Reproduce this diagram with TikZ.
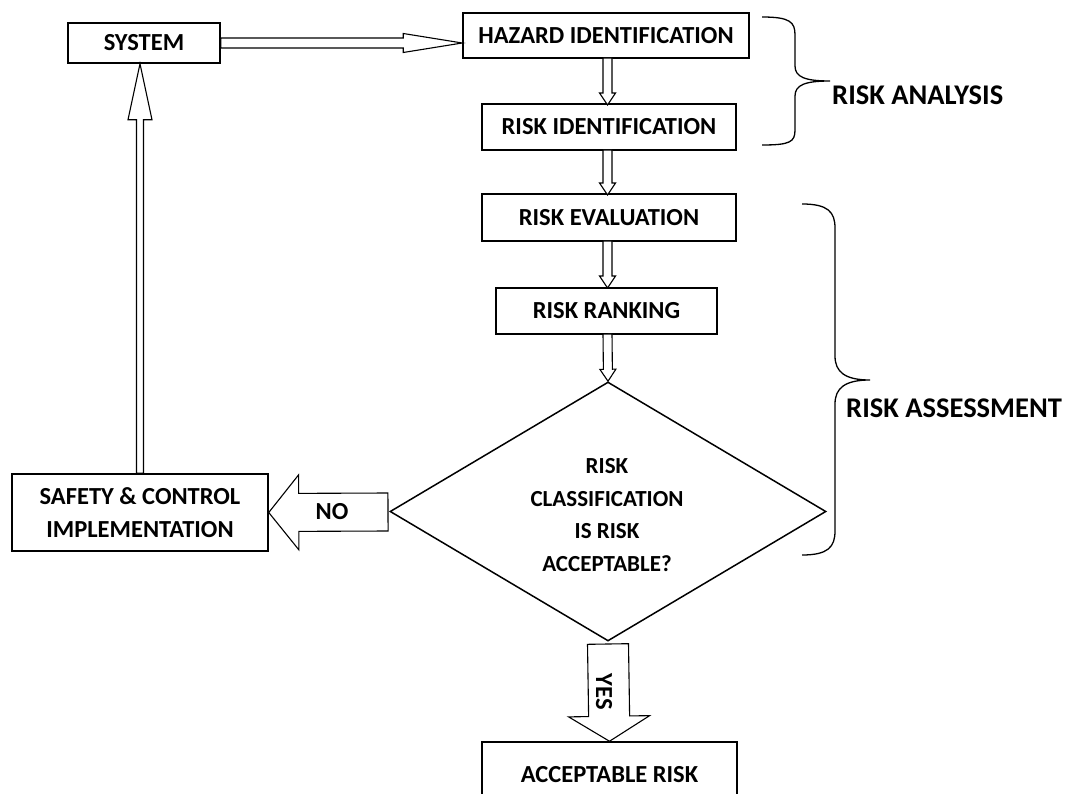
\documentclass[tikz,border=0pt]{standalone}
\usepackage{fontspec}
\setmainfont{Carlito}
\usetikzlibrary{calc,shapes.geometric}

% hollow block arrow from #1 to #2: shaft half-width #3, head half-width #4, head length #5
\newcommand{\blockarrow}[5]{%
  \path ($(#2)!#5!(#1)$) coordinate (hb);
  \draw[hollow]
    ($(#1)!#3!90:(#2)$) -- ($(hb)!#3!90:(#2)$) -- ($(hb)!#4!90:(#2)$) -- (#2)
    -- ($(hb)!#4!-90:(#2)$) -- ($(hb)!#3!-90:(#2)$) -- ($(#1)!#3!-90:(#2)$) -- cycle;
}

\tikzset{
  box/.style={draw, line width=1.5pt, inner sep=0pt, align=center,
    font=\bfseries\fontsize{24.5}{33}\selectfont},
  qtext/.style={align=center, inner sep=0pt,
    font=\bfseries\fontsize{23}{32.5}\selectfont},
  hollow/.style={draw, fill=white, line width=1.1pt, line join=miter},
  brace/.style={draw, line width=1.3pt},
  side/.style={font=\bfseries\fontsize{28.5}{32}\selectfont, anchor=west, inner sep=0pt},
}

\begin{document}
\begin{tikzpicture}[x=1pt, y=-1pt]
\useasboundingbox (0,0) rectangle (1065,794);
\clip (0,0) rectangle (1065,794);

% process column
\node[box, minimum width=152pt, minimum height=40pt] (system) at (144,43) {SYSTEM};
\node[box, minimum width=286pt, minimum height=45pt] (hazard) at (606,35.5) {HAZARD IDENTIFICATION};
\node[box, minimum width=254pt, minimum height=46pt] (riskid) at (609,127) {RISK IDENTIFICATION};
\node[box, minimum width=254pt, minimum height=47pt] (evaluation) at (609,217.5) {RISK EVALUATION};
\node[box, minimum width=221pt, minimum height=46pt] (ranking) at (606.5,311) {RISK RANKING};
\node[box, shape=diamond, minimum width=436pt, minimum height=259pt] (classify) at (608,511.5) {};
\node[qtext] (question) at (607,515) {RISK\\CLASSIFICATION\\IS RISK\\ACCEPTABLE?};
\node[box, minimum width=256pt, minimum height=77pt] (safety) at (140,512.5)
  {SAFETY \& CONTROL\\IMPLEMENTATION};
\node[box, minimum width=255pt, minimum height=66pt] (accept) at (609.5,775) {ACCEPTABLE RISK};

% connectors
\coordinate (hzin) at (system.east -| hazard.west);
\blockarrow{system.east}{hzin}{5pt}{9.5pt}{59pt}
\coordinate (a1s) at (607.5,58);  \coordinate (a1e) at (607.5,105);
\blockarrow{a1s}{a1e}{4.5pt}{8pt}{12pt}
\coordinate (a2s) at (607.5,150); \coordinate (a2e) at (607.5,195);
\blockarrow{a2s}{a2e}{4.5pt}{8pt}{12pt}
\coordinate (a3s) at (607.5,241); \coordinate (a3e) at (607.5,288);
\blockarrow{a3s}{a3e}{4.5pt}{8pt}{12pt}
\coordinate (a4s) at (607.5,334);
\blockarrow{a4s}{classify.north}{4.5pt}{8pt}{12pt}

% NO branch
\coordinate (nos) at (388,512);
\blockarrow{nos}{safety.east}{19pt}{37.5pt}{30pt}
\node[font=\bfseries\fontsize{24.5}{28}\selectfont] (no) at (332,512) {NO};

% YES branch
\coordinate (yess) at (classify.south |- 0,644);
\blockarrow{yess}{accept.north}{20.5pt}{40.5pt}{25pt}
\node[font=\bfseries\fontsize{24.5}{28}\selectfont, rotate=-90] (yes) at (604,692) {YES};

% feedback to the system
\coordinate (fbtop) at (safety.north |- system.south);
\blockarrow{safety.north}{fbtop}{3.5pt}{12pt}{56pt}

% braces and their labels
\draw[brace] (762,17) .. controls (790,17) and (795,22) .. (795,35) -- (795,66)
  .. controls (795,77) and (805,81) .. (830,81)
  .. controls (805,81) and (795,85) .. (795,96) -- (795,130)
  .. controls (795,142) and (790,145) .. (762,145);
\node[side] (analysis) at (832,95) {RISK ANALYSIS};

\draw[brace] (802,204) .. controls (828,204) and (835,212) .. (835,228) -- (835,356)
  .. controls (835,372) and (845,380) .. (870,380)
  .. controls (845,380) and (835,388) .. (835,404) -- (835,531)
  .. controls (835,547) and (828,555) .. (802,555);
\node[side] (assessment) at (846,408) {RISK ASSESSMENT};
\end{tikzpicture}
\end{document}
